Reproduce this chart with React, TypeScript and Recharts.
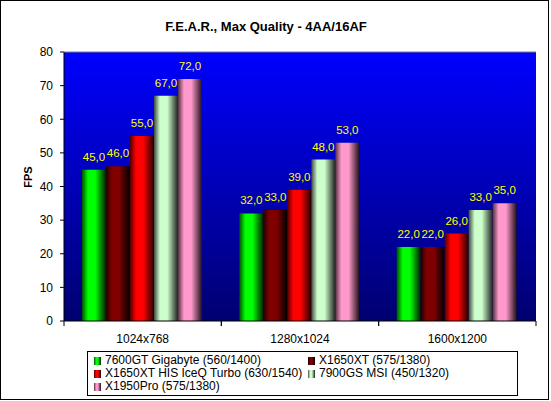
import React from 'react'
import { BarChart, Bar, XAxis, YAxis, CartesianGrid, LabelList, Legend, ReferenceLine } from 'recharts'

const categories = ['1024x768', '1280x1024', '1600x1200']
const seriesNames = [
  '7600GT Gigabyte (560/1400)',
  'X1650XT (575/1380)',
  'X1650XT HIS IceQ Turbo (630/1540)',
  '7900GS MSI (450/1320)',
  'X1950Pro (575/1380)',
]
const gt7600 = [45, 32, 22]
const x1650xt = [46, 33, 22]
const x1650his = [55, 39, 26]
const gs7900 = [67, 48, 33]
const x1950pro = [72, 53, 35]
const yTicks = [0, 10, 20, 30, 40, 50, 60, 70, 80]

const SERIES = [
  { key: 's0', values: gt7600, color: '#00FF00', dark: '#005000', end: '#002000' },
  { key: 's1', values: x1650xt, color: '#800000', dark: '#200000', end: '#000000' },
  { key: 's2', values: x1650his, color: '#FF0000', dark: '#500000', end: '#200000' },
  { key: 's3', values: gs7900, color: '#CCFFCC', dark: '#404840', end: '#202020' },
  { key: 's4', values: x1950pro, color: '#FF99CC', dark: '#503040', end: '#201018' },
]

const data = categories.map((c, i) => {
  const row: Record<string, any> = { res: c }
  SERIES.forEach(s => { row[s.key] = s.values[i] })
  return row
})

const FONT = '"Liberation Sans", Arial, sans-serif'
const fmt = (v: any) => Number(v).toFixed(1).replace('.', ',')

function CatTick({ x, y, payload }: any) {
  const off = payload?.offset ?? 0
  return (
    <g>
      <line x1={x - off} x2={x - off} y1={y - 13} y2={y - 8} stroke="#000" />
      <line x1={x + off} x2={x + off} y1={y - 13} y2={y - 8} stroke="#000" />
      <text x={x} y={y} dy="0.71em" textAnchor="middle" fontSize={12} fill="#000">{payload.value}</text>
    </g>
  )
}

function LegendBox() {
  const cols = [6, 220]
  return (
    <div style={{ width: 431, height: 45, border: '1px solid #000', boxSizing: 'border-box', background: '#fff', position: 'relative', fontFamily: FONT, fontSize: 12 }}>
      {seriesNames.map((n, i) => {
        const s = SERIES[i]
        return (
          <div key={n} style={{ position: 'absolute', left: cols[i % 2], top: 2 + Math.floor(i / 2) * 13, display: 'flex', alignItems: 'center', whiteSpace: 'nowrap', lineHeight: '13px' }}>
            <span style={{ display: 'inline-block', width: 7, height: 8, marginRight: 4, background: `linear-gradient(to right, ${s.dark}, ${s.color} 30%, ${s.color} 55%, ${s.end})` }} />
            <span>{n}</span>
          </div>
        )
      })}
    </div>
  )
}

export default function App() {
  return (
    <div style={{ position: 'absolute', left: 0, top: 0, width: 551, height: 401, background: '#fff', fontFamily: FONT }}>
      <div style={{ position: 'absolute', left: 0, top: 0, width: 549, height: 400, border: '1px solid #000', boxSizing: 'border-box', pointerEvents: 'none' }} />
      <div style={{ position: 'absolute', left: 266, top: 19, transform: 'translateX(-50%)', fontWeight: 'bold', fontSize: 13, whiteSpace: 'nowrap' }}>
        F.E.A.R., Max Quality - 4AA/16AF
      </div>
      <div style={{ position: 'absolute', left: 28, top: 177, transform: 'translate(-50%, -50%) rotate(-90deg)', fontWeight: 'bold', fontSize: 11 }}>
        FPS
      </div>
      <div style={{ position: 'absolute', left: 0, top: 0 }}>
        <BarChart width={551} height={401} data={data} margin={{ top: 52, right: 15, bottom: 0, left: 0 }}
          barCategoryGap={18} barGap={0}>
          <defs>
            <linearGradient id="plotBg" x1="0" y1="0" x2="0" y2="1">
              <stop offset="0%" stopColor="#0000FF" />
              <stop offset="100%" stopColor="#000070" />
            </linearGradient>
            {SERIES.map(s => (
              <linearGradient key={s.key} id={`g-${s.key}`} x1="0" y1="0" x2="1" y2="0">
                <stop offset="0%" stopColor={s.dark} />
                <stop offset="25%" stopColor={s.color} />
                <stop offset="55%" stopColor={s.color} />
                <stop offset="100%" stopColor={s.end} />
              </linearGradient>
            ))}
          </defs>
          <CartesianGrid horizontal={false} vertical={false} fill="url(#plotBg)" fillOpacity={1} />
          <XAxis dataKey="res" height={80} axisLine={{ stroke: '#000' }} tickLine={false}
            tickSize={5} tickMargin={8} tick={<CatTick />} interval={0} />
          <YAxis width={64} domain={[0, 80]} ticks={yTicks} interval={0} axisLine={{ stroke: '#000' }}
            tickLine={{ stroke: '#000' }} tickSize={4} tickMargin={7}
            tick={{ fill: '#000', fontSize: 12 }} />
          <YAxis yAxisId="r" orientation="right" width={0} domain={[0, 80]} tick={false} tickLine={false}
            axisLine={{ stroke: '#808080' }} />
          <ReferenceLine y={80} stroke="#808080" />
          {SERIES.map((s, i) => (
            <Bar key={s.key} dataKey={s.key} name={seriesNames[i]} fill={`url(#g-${s.key})`} isAnimationActive={false}>
              <LabelList dataKey={s.key} position="top" offset={9} fill="#FFFF00" fontSize={11.5} formatter={fmt} />
            </Bar>
          ))}
          <Legend layout="horizontal" verticalAlign="middle" align="center"
            wrapperStyle={{ left: 87, top: 351, width: 431, height: 45 }}
            content={() => <LegendBox />} />
        </BarChart>
      </div>
    </div>
  )
}
